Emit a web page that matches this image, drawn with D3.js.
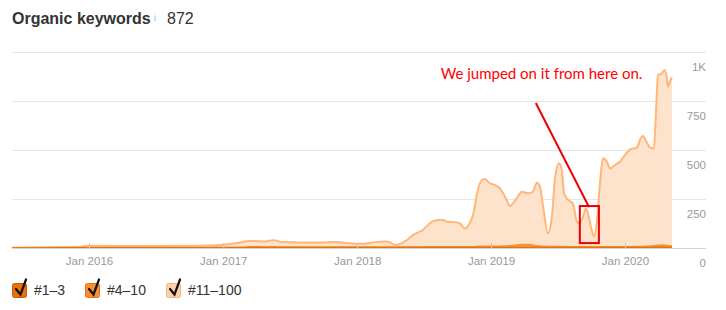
<!DOCTYPE html>
<html>
<head>
<meta charset="utf-8">
<script src="https://cdn.jsdelivr.net/npm/d3@7"></script>
<style>
  body { margin: 0; background: #fff; }
  svg { display: block; }
</style>
</head>
<body>
<div id="chart"></div>
<script>
// Sample dates
var dates = [
  "2015-06-05", "2015-07-24", "2015-10-14", "2015-12-07", "2015-12-24", "2016-01-17", "2016-03-26", "2016-06-15",
  "2016-09-05", "2016-11-26", "2017-01-06", "2017-02-16", "2017-03-15", "2017-04-06", "2017-04-25", "2017-05-19",
  "2017-06-10", "2017-07-29", "2017-09-22", "2017-11-02", "2017-11-29", "2017-12-26", "2018-01-22", "2018-02-19",
  "2018-03-18", "2018-03-31", "2018-04-14", "2018-05-03", "2018-05-17", "2018-06-02", "2018-06-29", "2018-07-24",
  "2018-08-09", "2018-08-23", "2018-09-03", "2018-09-25", "2018-10-08", "2018-10-22", "2018-11-02", "2018-11-13",
  "2018-11-26", "2018-12-07", "2018-12-15", "2018-12-29", "2019-01-12", "2019-01-25", "2019-02-08", "2019-02-22",
  "2019-03-02", "2019-03-15", "2019-03-26", "2019-04-12", "2019-04-25", "2019-05-06", "2019-05-14", "2019-05-23",
  "2019-06-05", "2019-06-16", "2019-06-24", "2019-07-05", "2019-07-13", "2019-07-19", "2019-07-30", "2019-08-12",
  "2019-08-23", "2019-08-31", "2019-09-09", "2019-09-17", "2019-09-22", "2019-09-30", "2019-10-09", "2019-10-17",
  "2019-10-25", "2019-11-02", "2019-11-13", "2019-11-21", "2019-12-05", "2019-12-18", "2020-01-01", "2020-01-15",
  "2020-02-03", "2020-02-11", "2020-02-19", "2020-03-01", "2020-03-09", "2020-03-20", "2020-03-26", "2020-03-31",
  "2020-04-11", "2020-04-14", "2020-04-19", "2020-04-25", "2020-04-27", "2020-05-03", "2020-05-08"
];

// Keywords ranking #1-3
var rank1to3 = [
  0, 0, 1, 1, 1, 1, 1, 1, 1, 1, 1, 1, 2, 2, 2, 2,
  2, 2, 2, 2, 2, 2, 2, 2, 2, 2, 2, 2, 2, 2, 2, 2,
  2, 2, 2, 2, 2, 2, 2, 2, 2, 3, 3, 3, 3, 3, 3, 3,
  3, 3, 3, 3, 3, 3, 3, 3, 3, 3, 3, 3, 3, 3, 3, 3,
  3, 3, 3, 3, 3, 3, 3, 3, 3, 3, 3, 3, 3, 3, 3, 3,
  3, 3, 3, 3, 3, 4, 4, 4, 4, 4, 4, 4, 4, 4, 4
];

// Keywords ranking #4-10
var rank4to10 = [
  0, 1, 1, 1, 2, 2, 2, 2, 2, 2, 3, 3, 4, 4, 3, 4,
  3, 3, 3, 3, 3, 3, 3, 3, 3, 3, 2, 3, 3, 3, 4, 4,
  4, 4, 4, 4, 5, 5, 5, 5, 6, 6, 6, 6, 6, 6, 7, 8,
  10, 13, 15, 15, 12, 9, 7, 6, 5, 5, 5, 5, 5, 5, 4, 4,
  4, 4, 4, 4, 4, 4, 4, 4, 4, 4, 4, 4, 4, 4, 4, 4,
  5, 5, 5, 6, 7, 8, 9, 10, 11, 11, 10, 9, 8, 7, 6
];

// Keywords ranking #11-100
var rank11to100 = [
  1, 1, 2, 3, 8, 9, 7, 7, 8, 10, 14, 24, 30, 29, 28, 34,
  25, 23, 23, 25, 21, 17, 17, 25, 28, 25, 11, 20, 36, 61, 86, 128,
  137, 137, 128, 126, 119, 93, 113, 161, 288, 338, 343, 321, 312, 295, 252, 203,
  215, 246, 269, 261, 272, 321, 306, 202, 67, 152, 339, 424, 390, 271, 238, 221,
  127, 119, 153, 195, 170, 102, 51, 136, 323, 451, 433, 399, 416, 433, 467, 496,
  505, 543, 563, 528, 503, 496, 691, 869, 876, 885, 894, 844, 811, 839, 862
];

var seriesKeys = ["#1–3", "#4–10", "#11–100"];
var seriesFill = ["#e8710a", "#fb9440", "#fee3cc"];
var seriesStroke = ["#e8710a", "#f7923a", "#ffb677"];
var legendFill = ["#e8710a", "#fb8d32", "#fdd2ab"];
var legendBorder = ["#c85a00", "#e07318", "#f0b684"];

var yTicks = [0, 250, 500, 750, 1000];
var yTickLabels = ["0", "250", "500", "750", "1K"];
var xTickDates = ["2016-01-01", "2017-01-01", "2018-01-01", "2019-01-01", "2020-01-01"];
var xTickLabels = ["Jan 2016", "Jan 2017", "Jan 2018", "Jan 2019", "Jan 2020"];

var totalKeywords = "872";
var noteText = "We jumped on it from here on.";

var svgWidth = 726;
var svgHeight = 310;

var parseDate = d3.timeParse("%Y-%m-%d");

var svg = d3
  .select("#chart")
  .append("svg")
  .attr("width", svgWidth)
  .attr("height", svgHeight);

// Scales
var xScale = d3
  .scaleTime()
  .domain([parseDate("2015-06-05"), parseDate("2020-08-09")])
  .range([12, 706]);

var yScale = d3.scaleLinear().domain([0, 1000]).range([248, 52]);

// Title
svg
  .append("text")
  .attr("x", 12)
  .attr("y", 24)
  .style("font-family", "'Liberation Sans', Arial, sans-serif")
  .style("font-size", "16px")
  .style("font-weight", "bold")
  .style("fill", "#333")
  .text("Organic keywords");

svg
  .append("text")
  .attr("x", 154)
  .attr("y", 21)
  .style("font-family", "'Liberation Sans', Arial, sans-serif")
  .style("font-size", "9px")
  .style("fill", "#aaa")
  .text("i");

svg
  .append("text")
  .attr("x", 167)
  .attr("y", 24)
  .style("font-family", "'Liberation Sans', Arial, sans-serif")
  .style("font-size", "16px")
  .style("fill", "#333")
  .text(totalKeywords);

// Gridlines with labels sitting under each line on the right
var yAxis = d3
  .axisRight(yScale)
  .tickValues(yTicks)
  .tickSize(0)
  .tickFormat((d, i) => yTickLabels[i]);

svg
  .append("g")
  .attr("transform", "translate(706, 0)")
  .call(yAxis)
  .call((g) => g.select(".domain").remove())
  .call((g) =>
    g
      .selectAll(".tick text")
      .attr("x", 0)
      .attr("dy", "18px")
      .attr("text-anchor", "end")
      .style("font-family", "'Liberation Sans', Arial, sans-serif")
      .style("font-size", "11.5px")
      .style("fill", "#999")
  );

svg
  .append("g")
  .selectAll("line")
  .data(yTicks.slice(1))
  .enter()
  .append("line")
  .attr("x1", 12)
  .attr("x2", 706)
  .attr("y1", (d) => yScale(d) + 0.5)
  .attr("y2", (d) => yScale(d) + 0.5)
  .attr("stroke", "#e6e6e6")
  .attr("stroke-width", 1);

// Stack the three ranking groups
var table = dates.map(function (d, i) {
  var row = { date: parseDate(d) };
  row[seriesKeys[0]] = rank1to3[i];
  row[seriesKeys[1]] = rank4to10[i];
  row[seriesKeys[2]] = rank11to100[i];
  return row;
});

var stacked = d3.stack().keys(seriesKeys)(table);

var area = d3
  .area()
  .x((d) => xScale(d.data.date))
  .y0((d) => yScale(d[0]))
  .y1((d) => yScale(d[1]))
  .curve(d3.curveMonotoneX);

var topLine = d3
  .line()
  .x((d) => xScale(d.data.date))
  .y((d) => yScale(d[1]))
  .curve(d3.curveMonotoneX);

var layers = svg.append("g");

// draw the biggest layer first so the small ones stay visible
stacked
  .slice()
  .reverse()
  .forEach(function (layer) {
    var i = layer.index;
    layers
      .append("path")
      .datum(layer)
      .attr("d", area)
      .attr("fill", seriesFill[i]);
    layers
      .append("path")
      .datum(layer)
      .attr("d", topLine)
      .attr("fill", "none")
      .attr("stroke", seriesStroke[i])
      .attr("stroke-width", i === 2 ? 2 : 1.5)
      .attr("stroke-linejoin", "round");
  });

// Baseline and the small inward ticks
var xAxis = d3
  .axisBottom(xScale)
  .tickValues(xTickDates.map(parseDate))
  .tickSize(0)
  .tickFormat((d, i) => xTickLabels[i]);

svg
  .append("g")
  .attr("transform", "translate(0, 248)")
  .call(xAxis)
  .call((g) => g.select(".domain").attr("stroke", "#d4d4d4").attr("d", "M12,0.5H706"))
  .call((g) =>
    g
      .selectAll(".tick line")
      .attr("y1", -5)
      .attr("y2", 0)
      .attr("stroke", "#c8c8c8")
  )
  .call((g) =>
    g
      .selectAll(".tick text")
      .attr("y", 17)
      .attr("dy", 0)
      .style("font-family", "'Liberation Sans', Arial, sans-serif")
      .style("font-size", "11.5px")
      .style("fill", "#999")
  );

// Annotation
var note = svg.append("g");

note
  .append("text")
  .attr("x", xScale(parseDate("2018-08-17")))
  .attr("y", yScale(862))
  .style("font-family", "Lato, 'Open Sans', sans-serif")
  .style("font-size", "15px")
  .style("fill", "#f00")
  .text(noteText);

note
  .append("line")
  .attr("x1", xScale(parseDate("2019-05-03")))
  .attr("y1", yScale(740))
  .attr("x2", xScale(parseDate("2019-09-25")))
  .attr("y2", yScale(209))
  .attr("stroke", "#e00")
  .attr("stroke-width", 2);

note
  .append("rect")
  .attr("x", xScale(parseDate("2019-08-31")))
  .attr("y", yScale(214))
  .attr("width", xScale(parseDate("2019-10-22")) - xScale(parseDate("2019-08-31")))
  .attr("height", yScale(25) - yScale(214))
  .attr("fill", "none")
  .attr("stroke", "#e00")
  .attr("stroke-width", 2);

// Legend with checkboxes
var legend = svg
  .append("g")
  .selectAll("g")
  .data(seriesKeys)
  .enter()
  .append("g")
  .attr("transform", (d, i) => `translate(${[12, 85, 166][i]}, 283)`);

legend
  .append("rect")
  .attr("x", 0.5)
  .attr("y", 0.5)
  .attr("width", 14)
  .attr("height", 14)
  .attr("rx", 2)
  .attr("fill", (d, i) => legendFill[i])
  .attr("stroke", (d, i) => legendBorder[i]);

legend
  .append("path")
  .attr("d", "M4,6 L8.5,11.5 L14,-3.5")
  .attr("fill", "none")
  .attr("stroke", "#111")
  .attr("stroke-width", 2.2)
  .attr("stroke-linecap", "round");

legend
  .append("text")
  .attr("x", 22)
  .attr("y", 12)
  .style("font-family", "'Liberation Sans', Arial, sans-serif")
  .style("font-size", "14px")
  .style("fill", "#333")
  .text((d) => d);
</script>
</body>
</html>
